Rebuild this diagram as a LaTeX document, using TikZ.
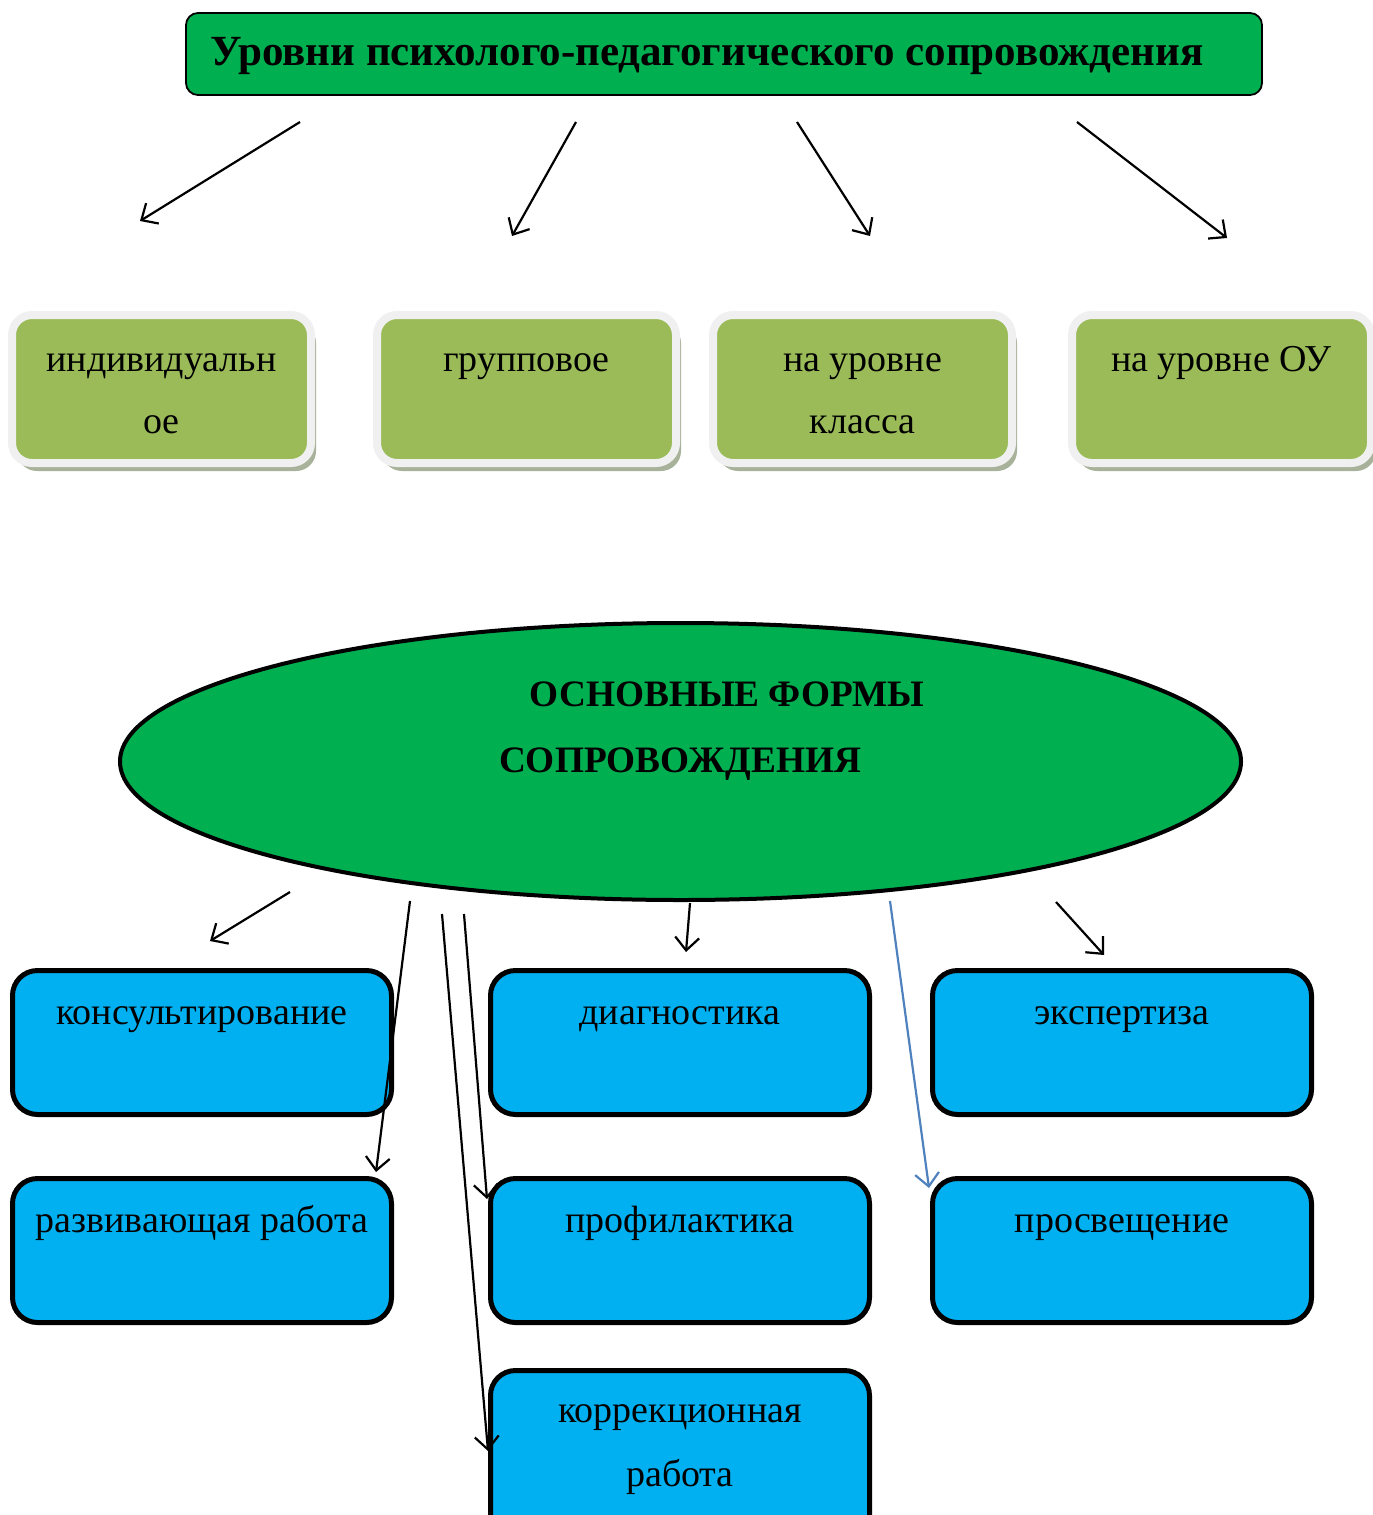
\documentclass[tikz,border=0pt]{standalone}
\usepackage{fontspec}
\setmainfont{Liberation Serif}
\usetikzlibrary{arrows.meta,shapes.geometric,shadows}
\definecolor{titlegreen}{HTML}{00B050}
\definecolor{olivegreen}{HTML}{9BBB59}
\definecolor{skyblue}{HTML}{00B0F0}
\definecolor{arrowblue}{HTML}{4F81BD}
\definecolor{framegray}{HTML}{F0F0F0}
\definecolor{shadowgray}{HTML}{A8B29A}
\begin{document}
\begin{tikzpicture}[x=1pt,y=-1pt,
  titlebox/.style={draw=black,line width=1.8pt,fill=titlegreen,rounded corners=12pt,minimum width=1076pt,minimum height=82pt,anchor=north west,inner sep=0pt,outer sep=0pt},
  levelbox/.style={draw=framegray,line width=8pt,fill=olivegreen,rounded corners=20pt,minimum width=299pt,minimum height=148pt,anchor=north west,inner sep=0pt,outer sep=0pt,
     drop shadow={shadow xshift=5pt,shadow yshift=-8pt,fill=shadowgray,opacity=1}},
  formbox/.style={draw=black,line width=5pt,fill=skyblue,rounded corners=25pt,minimum width=379pt,minimum height=144pt,anchor=north west,inner sep=0pt,outer sep=0pt},
  bodytxt/.style={font=\fontsize{38}{44}\selectfont,anchor=base,inner sep=0pt},
  titletxt/.style={font=\fontsize{43}{48}\selectfont\bfseries,anchor=base west,inner sep=0pt},
  elltxt/.style={font=\fontsize{37.3}{42}\selectfont\bfseries,anchor=base,inner sep=0pt},
  arr/.style={draw=black,line width=2.2pt,-{Straight Barb[length=13pt,width=24pt,line width=2.2pt]}},
  barr/.style={draw=arrowblue,line width=2.2pt,-{Straight Barb[length=13pt,width=24pt,line width=2.2pt]}}
]
\useasboundingbox (0,0) rectangle (1373,1515);

% title
\node[titlebox] (title) at (186,13) {};
\node[titletxt] (titlet) at ([xshift=24pt,yshift=-52pt]title.north west) {Уровни психолого-педагогического сопровождения};

% level boxes
\node[levelbox] (l1) at (12,315) {};
\node[levelbox] (l2) at (377,315) {};
\node[levelbox] (l3) at (713,315) {};
\node[levelbox] (l4) at (1072,315) {};
\node[bodytxt] (l1a) at ([yshift=-56pt]l1.north) {индивидуальн};
\node[bodytxt] (l1b) at ([yshift=-118pt]l1.north) {ое};
\node[bodytxt] (l2a) at ([yshift=-56pt]l2.north) {групповое};
\node[bodytxt] (l3a) at ([yshift=-56pt]l3.north) {на уровне};
\node[bodytxt] (l3b) at ([yshift=-118pt]l3.north) {класса};
\node[bodytxt] (l4a) at ([yshift=-56pt]l4.north) {на уровне ОУ};

% top arrows
\coordinate (s1) at (300,122); \coordinate (e1) at (140,221);
\coordinate (s2) at (576,122); \coordinate (e2) at (512,236);
\coordinate (s3) at (797,122); \coordinate (e3) at (870,236);
\coordinate (s4) at (1077,122); \coordinate (e4) at (1227,238);
\draw[arr] (s1) -- (e1);
\draw[arr] (s2) -- (e2);
\draw[arr] (s3) -- (e3);
\draw[arr] (s4) -- (e4);

% ellipse
\node[ellipse,draw=black,line width=4pt,fill=titlegreen,minimum width=1121pt,minimum height=277pt,inner sep=0pt,outer sep=0pt] (ell) at (680.5,761.5) {};
\node[elltxt] (ella) at (727,706) {ОСНОВНЫЕ ФОРМЫ};
\node[elltxt] (ellb) at (680,772) {СОПРОВОЖДЕНИЯ};

% form boxes
\node[formbox] (b1) at (12.5,970.5) {};
\node[formbox] (b2) at (490.5,970.5) {};
\node[formbox] (b3) at (932.5,970.5) {};
\node[formbox] (b4) at (12.5,1178.5) {};
\node[formbox] (b5) at (490.5,1178.5) {};
\node[formbox] (b6) at (932.5,1178.5) {};
\node[formbox,minimum height=170pt] (b7) at (490.5,1370.5) {};
\node[bodytxt] (b1t) at ([yshift=-54pt]b1.north) {консультирование};
\node[bodytxt] (b2t) at ([yshift=-54pt]b2.north) {диагностика};
\node[bodytxt] (b3t) at ([yshift=-54pt]b3.north) {экспертиза};
\node[bodytxt] (b4t) at ([yshift=-54pt]b4.north) {развивающая работа};
\node[bodytxt] (b5t) at ([yshift=-54pt]b5.north) {профилактика};
\node[bodytxt] (b6t) at ([yshift=-54pt]b6.north) {просвещение};
\node[bodytxt] (b7a) at ([yshift=-52pt]b7.north) {коррекционная};
\node[bodytxt] (b7b) at ([yshift=-116pt]b7.north) {работа};

% lower arrows
\coordinate (f1s) at (290,892); \coordinate (f1e) at (210,941);
\coordinate (f2s) at (410,901); \coordinate (f2e) at (376,1172);
\coordinate (f3s) at (442,914); \coordinate (f3e) at (488,1451);
\coordinate (f4s) at (464,914); \coordinate (f4e) at (487,1199);
\coordinate (f5s) at (690,903); \coordinate (f5e) at (686,952);
\coordinate (f6s) at (890,901); \coordinate (f6e) at (929,1188);
\coordinate (f7s) at (1056,902); \coordinate (f7e) at (1104,955);
\draw[arr] (f1s) -- (f1e);
\draw[arr] (f2s) -- (f2e);
\draw[arr] (f3s) -- (f3e);
\draw[arr] (f4s) -- (f4e);
\draw[arr] (f5s) -- (f5e);
\draw[barr] (f6s) -- (f6e);
\draw[arr] (f7s) -- (f7e);
\end{tikzpicture}
\end{document}
